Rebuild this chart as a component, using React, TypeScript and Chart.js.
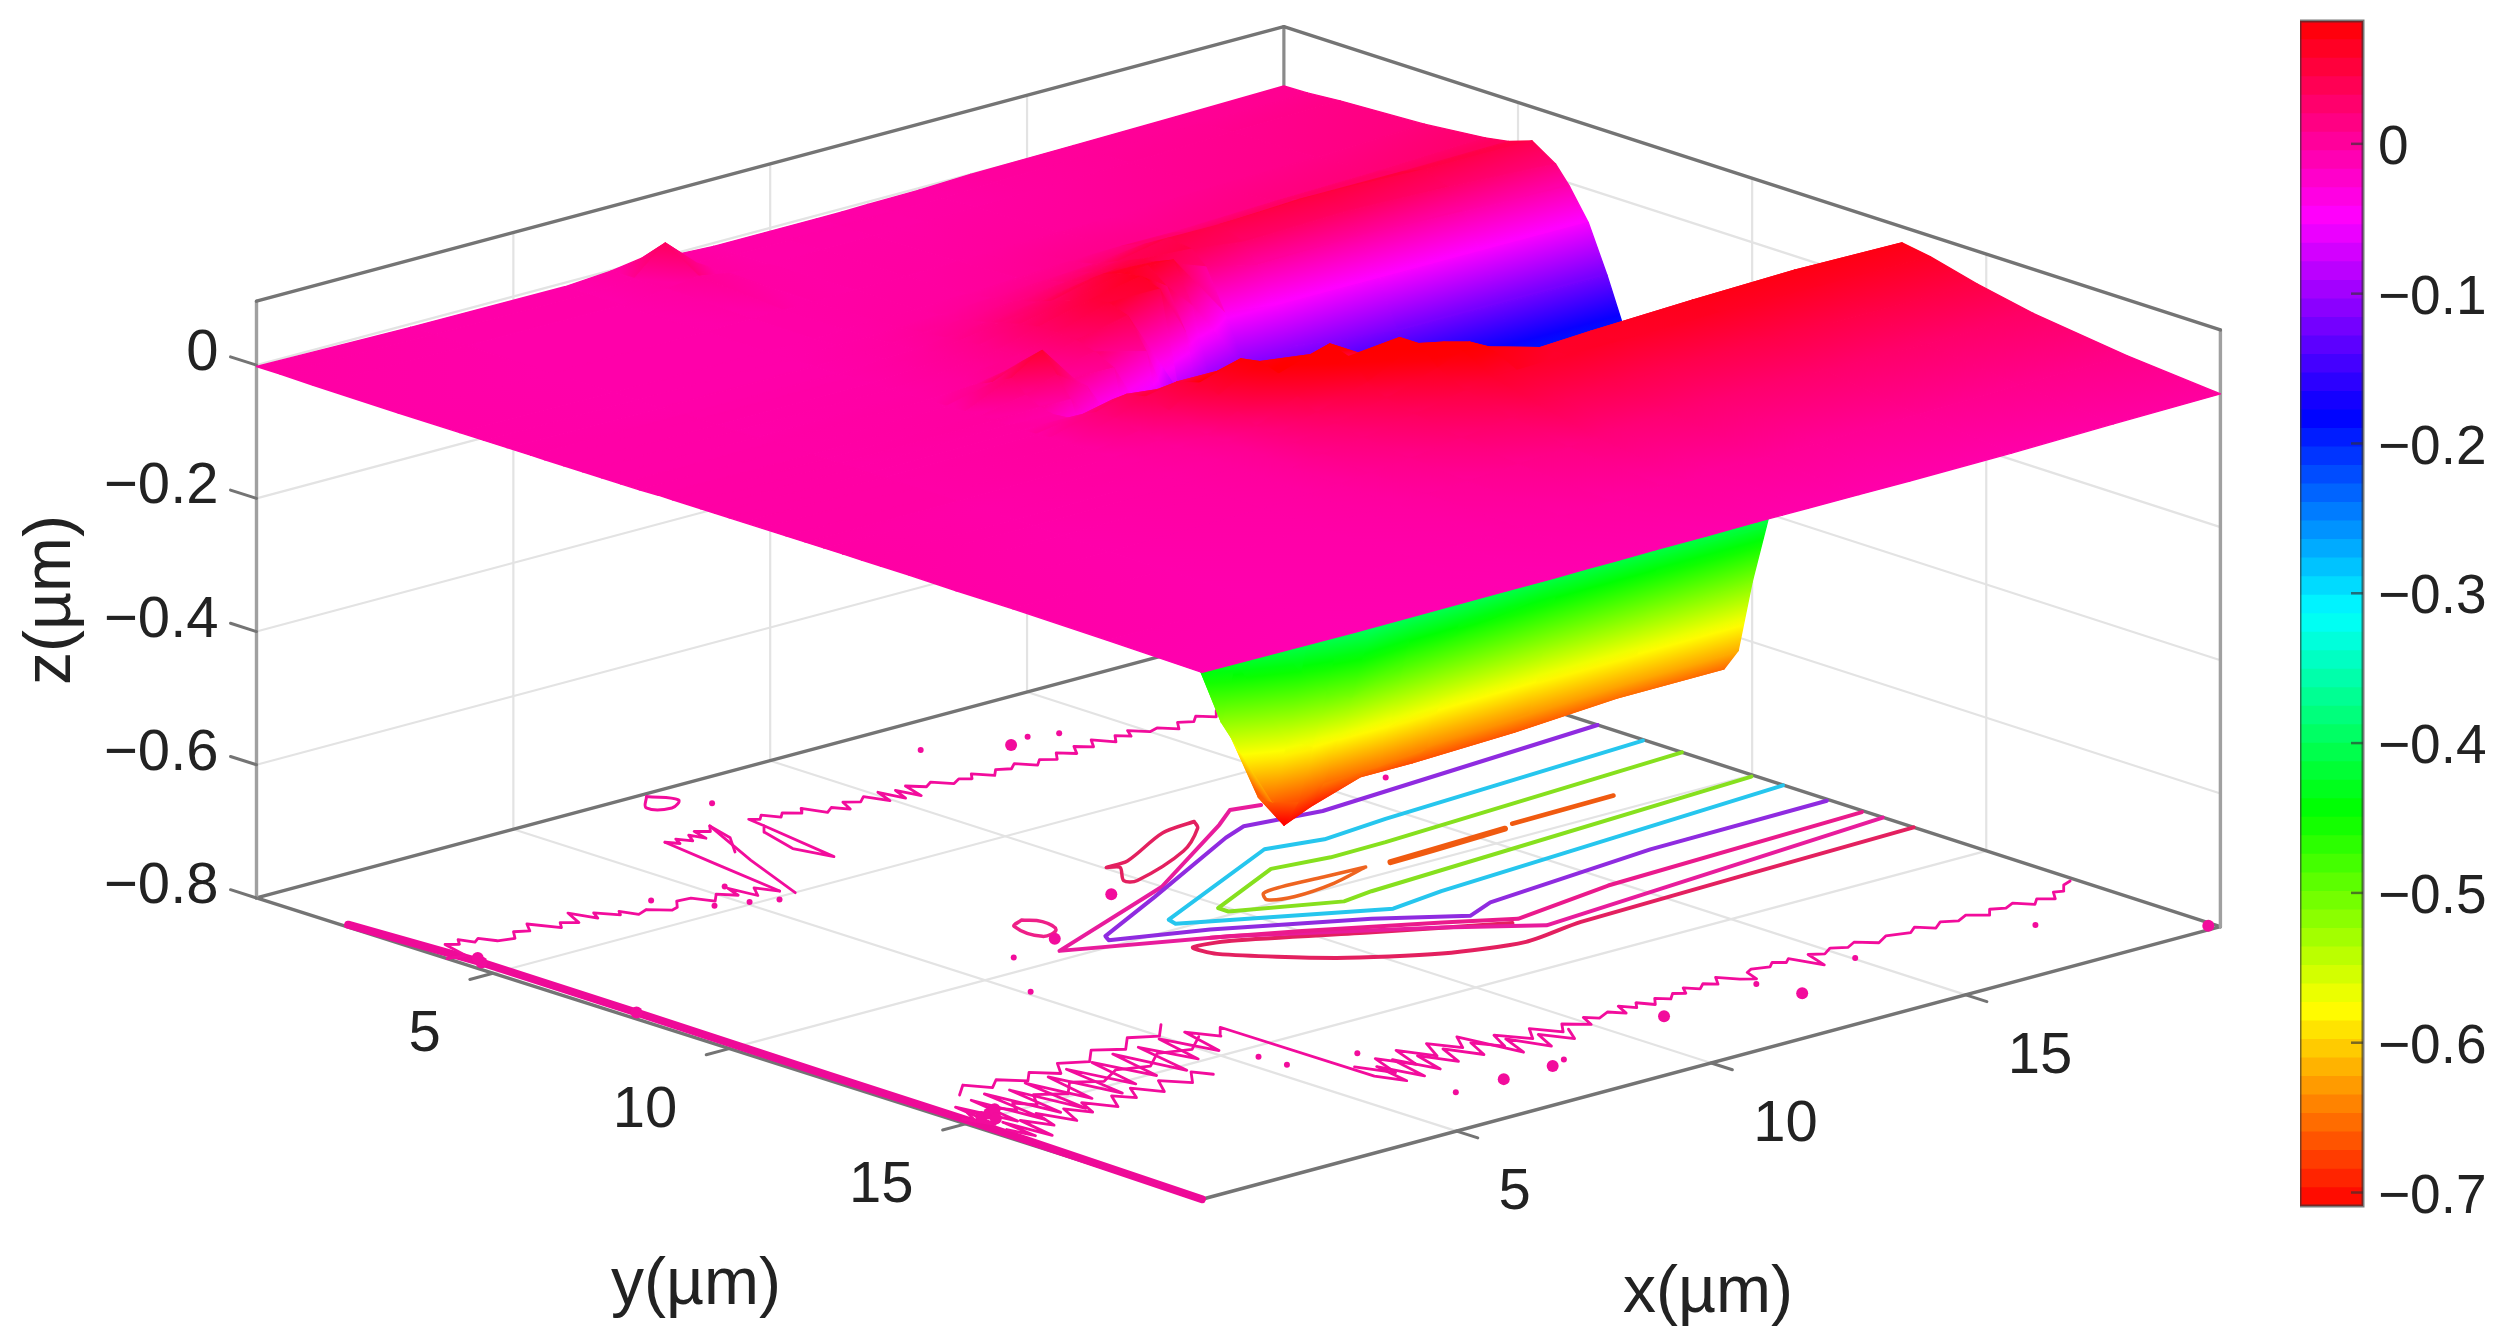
import { useEffect, useRef } from "react"
import { Chart, registerables } from "chart.js"

Chart.register(...registerables)

type Pair = number[]

// ---- axes ----
const axisMax = 20
const zFloor = -0.8
const zTop = 0.096
const xTicks = [5, 10, 15]
const yTicks = [5, 10, 15]
const zTicks = [0, -0.2, -0.4, -0.6, -0.8]
const colorBarTicks = [-0.7, -0.6, -0.5, -0.4, -0.3, -0.2, -0.1, 0]
const colorMin = -0.709
const colorMax = 0.082
const colorLevels = 64

// ---- surface heights (um), one array per x position, values along surfaceY ----
const surfaceX = [0, 3, 6, 6.9, 7.5, 8.1, 8.9, 9.9, 10.9, 11.4, 11.9, 12.9, 13.9, 15.9, 17.9, 20]
const surfaceY = [
  0, 0.5, 1.2, 3, 4.3, 4.8, 5.3, 5.8, 6.1, 6.5, 6.9,
  7.3, 7.7, 8.1, 8.5, 8.8, 9.1, 9.4, 9.7, 10, 10.3, 10.7,
  11.2, 11.6, 12, 12.4, 12.8, 13.2, 13.8, 14.8, 16, 18, 20,
]
const zAtX0 = [
  -0.002, -0.002, -0.003, -0.004, -0.004, -0.004, -0.004, -0.004, -0.004, -0.004, -0.004,
  -0.004, -0.004, -0.004, -0.003, -0.003, -0.003, -0.003, -0.003, -0.003, -0.003, -0.003,
  -0.003, -0.003, -0.003, -0.003, -0.003, -0.003, -0.003, -0.004, -0.004, -0.006, -0.009,
]
const zAtX3 = [
  -0.005, -0.005, -0.005, -0.006, -0.006, -0.006, -0.006, -0.005, -0.005, -0.005, -0.005,
  -0.005, -0.004, -0.004, -0.004, -0.004, -0.004, -0.004, -0.004, -0.004, -0.004, -0.004,
  -0.004, -0.004, -0.005, -0.005, -0.005, -0.005, -0.006, -0.006, -0.007, -0.008, -0.01,
]
const zAtX6 = [
  -0.006, -0.006, -0.006, -0.006, -0.006, -0.006, -0.005, -0.005, -0.004, -0.004, -0.003,
  -0.003, -0.002, -0.002, -0.001, -0.001, 0, -0.001, -0.001, -0.001, 0, 0,
  0, -0.001, -0.001, -0.001, -0.002, -0.002, -0.002, -0.003, -0.004, -0.006, -0.009,
]
const zAtX69 = [
  -0.001, -0.001, -0.001, -0.005, -0.005, -0.004, -0.003, -0.002, -0.001, 0, 0.001,
  0.001, 0.002, 0.015, 0.03, 0.012, 0.001, -0.004, -0.002, 0.01, 0.02, 0.02,
  0.012, 0.006, 0.003, 0.002, 0.001, 0.001, 0, -0.001, -0.002, -0.005, -0.009,
]
const zAtX75 = [
  0.006, 0.04, 0.006, -0.004, -0.004, -0.003, -0.001, 0, 0.002, 0.004, 0.005,
  0.006, 0.01, 0.035, 0.06, 0.03, 0, -0.06, -0.06, 0.02, 0.035, 0.04,
  0.03, 0.02, 0.012, 0.008, 0.006, 0.005, 0.004, 0.002, -0.001, -0.004, -0.008,
]
const zAtX81 = [
  -0.002, -0.002, -0.002, -0.004, -0.002, -0.001, 0.002, 0.005, 0.008, 0.01, 0.012,
  0.012, 0.01, 0.008, 0.006, 0, -0.05, -0.13, -0.12, -0.02, 0.03, 0.05,
  0.06, 0.05, 0.035, 0.022, 0.018, 0.015, 0.012, 0.006, 0.002, -0.003, -0.008,
]
const zAtX89 = [
  -0.005, -0.005, -0.005, -0.003, -0.001, 0, 0.005, 0.012, 0.018, 0.025, 0.03,
  0.03, 0.028, 0.02, 0.005, -0.1, -0.2, -0.29, -0.31, -0.13, -0.03, 0.05,
  0.08, 0.085, 0.075, 0.05, 0.035, 0.028, 0.02, 0.012, 0.005, -0.002, -0.007,
]
const zAtX99 = [
  -0.005, -0.005, -0.004, -0.002, 0, 0.005, 0.012, 0.022, 0.03, 0.04, 0.05,
  0.055, 0.045, 0, -0.14, -0.23, -0.36, -0.47, -0.52, -0.42, -0.34, -0.08,
  0.01, 0.075, 0.1, 0.09, 0.06, 0.045, 0.035, 0.022, 0.01, 0, -0.007,
]
const zAtX109 = [
  -0.005, -0.004, -0.004, -0.001, 0.004, 0.01, 0.02, 0.035, 0.05, 0.06, 0.065,
  0.055, -0.09, -0.2, -0.31, -0.44, -0.56, -0.66, -0.66, -0.56, -0.45, -0.3,
  -0.09, -0.02, 0.055, 0.098, 0.098, 0.07, 0.05, 0.032, 0.015, 0.002, -0.006,
]
const zAtX114 = [
  -0.005, -0.004, -0.004, 0, 0.006, 0.012, 0.025, 0.04, 0.05, 0.062, 0.04,
  -0.02, -0.16, -0.27, -0.42, -0.54, -0.63, -0.712, -0.67, -0.58, -0.49, -0.35,
  -0.2, -0.09, -0.02, 0.05, 0.09, 0.085, 0.06, 0.04, 0.02, 0.002, -0.006,
]
const zAtX119 = [
  -0.004, -0.004, -0.003, 0.001, 0.008, 0.015, 0.03, 0.045, 0.048, 0.06, 0,
  -0.12, -0.23, -0.34, -0.5, -0.6, -0.66, -0.695, -0.65, -0.58, -0.51, -0.39,
  -0.28, -0.16, -0.07, 0.03, 0.08, 0.082, 0.06, 0.04, 0.02, 0.003, -0.006,
]
const zAtX129 = [
  -0.003, -0.003, -0.002, 0.002, 0.01, 0.025, 0.045, 0.04, 0.02, -0.04, -0.11,
  -0.18, -0.28, -0.37, -0.47, -0.55, -0.62, -0.67, -0.65, -0.58, -0.48, -0.36,
  -0.24, -0.14, -0.08, -0.02, 0.03, 0.06, 0.062, 0.042, 0.024, 0.005, -0.006,
]
const zAtX139 = [
  0, 0, 0, 0.003, 0.01, 0.022, 0.045, 0.03, 0.002, -0.05, -0.1,
  -0.18, -0.27, -0.36, -0.46, -0.56, -0.63, -0.67, -0.64, -0.56, -0.46, -0.36,
  -0.24, -0.13, -0.06, -0.01, 0.03, 0.064, 0.062, 0.042, 0.024, 0.005, -0.006,
]
const zAtX159 = [
  0.002, 0.003, 0.004, 0.008, 0.016, 0.03, 0.05, 0.035, 0.005, -0.05, -0.12,
  -0.2, -0.31, -0.42, -0.53, -0.6, -0.645, -0.665, -0.63, -0.53, -0.43, -0.31,
  -0.19, -0.1, -0.04, 0.005, 0.04, 0.07, 0.065, 0.045, 0.028, 0.007, -0.005,
]
const zAtX179 = [
  0.004, 0.005, 0.008, 0.012, 0.02, 0.03, 0.045, 0.03, 0, -0.05, -0.12,
  -0.2, -0.31, -0.42, -0.53, -0.6, -0.64, -0.655, -0.625, -0.52, -0.42, -0.31,
  -0.19, -0.1, -0.04, 0, 0.035, 0.074, 0.064, 0.046, 0.027, 0.01, -0.002,
]
const zAtX20 = [
  0.007, 0.008, 0.012, 0.018, 0.027, 0.033, 0.045, 0.022, -0.005, -0.05, -0.12,
  -0.2, -0.31, -0.42, -0.53, -0.6, -0.64, -0.654, -0.62, -0.51, -0.42, -0.3,
  -0.19, -0.1, -0.04, 0, 0.03, 0.072, 0.065, 0.047, 0.03, 0.012, 0,
]
const surfaceZ = [
  zAtX0, zAtX3, zAtX6, zAtX69, zAtX75, zAtX81, zAtX89, zAtX99,
  zAtX109, zAtX114, zAtX119, zAtX129, zAtX139, zAtX159, zAtX179, zAtX20,
]

// ---- contour lines on the floor, [x, y] in um ----
const purpleLine: Pair[] = [
  [20.1, 6.7], [14.32, 7.15], [12.97, 6.94], [12.4, 7.18], [9.68, 8.63], [7.85, 9.57], [7.75, 9.75],
  [9.19, 10.34], [11.27, 11.51], [12.42, 12.36], [13.08, 12.07], [16.55, 11.7], [20.05, 11.65],
]
const cyanLine: Pair[] = [
  [20.07, 7.7], [14.73, 8.04], [13.4, 8.19], [12.43, 7.97], [9.07, 9.59], [9.01, 9.8],
  [11.83, 11.36], [12.93, 11.19], [20.09, 10.67],
]
const greenLine: Pair[] = [
  [20.1, 8.5], [13.96, 8.88], [12.87, 8.9], [11.85, 8.74], [9.98, 9.65], [9.98, 9.87],
  [11.55, 10.62], [12.18, 10.52], [20.04, 10.05],
]
const orangeLoop: Pair[] = [
  [12.92, 9.59], [12.14, 9.54], [11.36, 9.49], [10.96, 9.55], [10.78, 9.82], [11.19, 9.97], [12.04, 9.87], [12.92, 9.59],
]
const orangeDashA: Pair[] = [[13.35, 9.65], [14.2, 9.62], [15.68, 9.55]]
const orangeDashB: Pair[] = [[15.92, 9.44], [17.94, 9.4]]
const magentaLineB: Pair[] = [
  [20.09, 12.8], [12.92, 13.44], [11.73, 12.51], [9.2, 10.78], [6.87, 9.66], [10.08, 8.34],
  [12.76, 6.65], [13.36, 6.22], [13.86, 6.34],
]
const magentaLineA: Pair[] = [
  [20.05, 12.4], [14.9, 12.6], [12.83, 12.93], [11.9, 12.33], [10.12, 11.28], [8.92, 10.64],
]
const crimsonLine: Pair[] = [
  [20.12, 13.45], [13.4, 13.65], [12.15, 13.84], [10.86, 13.45], [9.59, 12.59], [8.45, 11.29],
  [8.41, 10.82], [9.04, 10.96], [10.82, 12.01], [12.63, 13.03],
]
const crimsonEllipse: Pair[] = [
  [12.6, 6.29], [11.88, 6.4], [10.58, 7.07], [10.14, 7.1], [10.29, 7.23], [9.89, 7.74], [10.04, 7.87],
  [11.51, 7.25], [12.42, 6.56], [12.6, 6.29],
]
const smallLoop: Pair[] = [[7.49, 8.18], [7.2, 8.34], [7.17, 8.97], [7.54, 8.86], [7.66, 8.44], [7.49, 8.18]]
const edgeLoop: Pair[] = [[7.6, 0.1], [7.83, 0.53], [7.49, 0.76], [7.22, 0.51], [7.6, 0.1]]

const farNoise: Pair[] = [
  [16.5, 2.5], [16.3, 2.72], [16.1, 2.5], [15.9, 2.68], [15.7, 2.55], [15.5, 2.8], [15.3, 2.55], [15.1, 2.62],
  [14.9, 2.36], [14.75, 2.6], [14.6, 2.42], [14.4, 2.66], [14.2, 2.35], [14, 2.62], [13.8, 2.42], [13.6, 2.7],
  [13.4, 2.48], [13.2, 2.72], [13, 2.56], [12.8, 2.74], [12.6, 2.46], [12.4, 2.62], [12.2, 2.5], [12, 2.7],
  [11.8, 2.42], [11.65, 2.6], [11.5, 2.48], [11.3, 2.6], [11.1, 2.32], [10.9, 2.45], [10.7, 2.22], [10.55, 2.72],
  [10.45, 2.28], [10.3, 2.66], [10.2, 2.18], [10.05, 2.6], [9.9, 2.2], [9.7, 2.36], [9.5, 2.2], [9.35, 2.52],
  [9.2, 2.28], [9, 2.42], [8.85, 2.02], [8.7, 2.2], [8.5, 2], [8.35, 2.14], [8.2, 1.88], [8.05, 2.02],
  [7.93, 1.91], [7.88, 2.29], [7.6, 4.08], [7.43, 3.39], [7.67, 2.53], [7.88, 2.29],
]
const midStrandA: Pair[] = [
  [6.28, 1.93], [6.4, 2.12], [6.5, 1.92], [6.62, 2.15], [6.77, 1.9], [6.85, 2.18], [6.95, 1.82], [7.12, 1.98], [7.3, 1.77],
  [7.12, 2.4], [6.7, 2.96],
]
const midStrandB: Pair[] = [[7.3, 1.77], [6.6, 3.4], [5.99, 5.01]]
const midStrandC: Pair[] = [[6.28, 1.93], [6.1, 3.2], [5.88, 4.8]]
const leftNoise: Pair[] = [
  [5.88, 4.8], [5.71, 4.44], [5.5, 4.75], [5.42, 4.2], [5.3, 4.55], [5.1, 4.3], [4.86, 4.54], [4.7, 4.2],
  [4.45, 4.17], [4.25, 4.4], [4.1, 4.45], [3.85, 4.18], [3.61, 4.28], [3.5, 3.98], [3.4, 4.12], [3.18, 3.79],
  [3.05, 4.02], [2.9, 3.55], [2.7, 4], [2.5, 3.82], [2.35, 4.01], [2.1, 3.55], [1.9, 3.83], [1.7, 3.7],
  [1.5, 3.95], [1.23, 3.87], [1.1, 3.6], [0.95, 3.7], [0.85, 3.45], [0.71, 3.63], [0.55, 3.5], [0.4, 4.1], [0.1, 4.03],
]
const nearNoise: Pair[] = [
  [0.23, 14.8], [0.4, 15.3], [0.55, 14.3], [0.75, 15.4], [0.95, 14.2], [1.1, 15.6], [1.3, 14.1], [1.5, 15.5],
  [1.7, 14.2], [1.9, 15.6], [2.1, 14.1], [2.3, 15.3], [2.55, 14.1], [2.8, 15.4], [3, 14], [3.25, 15.2],
  [3.5, 14], [3.75, 15.1], [4, 13.9], [4.25, 15.2], [4.5, 13.9], [4.75, 14.9], [5, 13.8], [5.25, 14.8],
  [5.5, 13.8], [5.75, 14.3], [6.04, 13.97], [6.06, 17.22], [6.25, 17.7], [6.4, 16.9], [6.6, 17.7], [6.8, 16.8],
  [7, 17.6], [7.2, 16.9], [7.45, 17.5], [7.7, 16.9], [7.95, 17.5], [8.2, 16.95], [8.45, 17.4], [8.7, 16.9],
  [9, 17.4], [9.3, 17], [9.55, 17.45], [9.8, 17.15], [10.1, 17.45], [10.25, 17.12], [10.4, 17.3], [10.69, 17.16],
  [10.85, 17.38], [11, 17.05], [11.15, 17.28], [11.3, 17.1], [11.45, 17.35], [11.65, 17.12], [11.8, 17.3], [12, 17.12],
  [12.15, 17.24], [12.3, 17.02], [12.45, 17.22], [12.65, 17.06], [12.8, 17.22], [13, 16.95], [13.2, 17.25], [13.39, 17.4],
  [13.5, 17.08], [13.65, 17], [13.93, 17.1], [14.1, 16.96], [14.25, 17.1], [14.4, 16.98], [14.58, 17.55], [14.75, 17.02],
  [14.95, 17.16], [15.2, 17], [15.41, 17.15], [15.65, 17.02], [15.9, 17.28], [16.2, 17.1], [16.58, 17.22], [16.8, 17.06],
  [17, 17.3], [17.25, 17.12], [17.48, 17.26], [17.75, 17.12], [18, 17.35], [18.2, 17.14], [18.41, 17.26], [18.65, 17.14],
  [18.85, 17.4], [19.05, 17.22], [19.25, 17.4], [19.45, 17.14], [19.6, 17.2], [19.8, 16.98], [20, 16.9],
]
const nearNoiseInner: Pair[] = [
  [0.3, 15], [0.5, 14.6], [0.7, 15], [0.9, 14.6], [1.1, 15], [1.3, 14.7], [1.5, 15], [1.8, 14.6], [2.2, 14.9],
  [2.6, 14.5], [3, 14.8], [3.5, 14.5], [4, 14.7], [4.5, 14.3], [5, 14.5], [5.5, 14.1],
]
const nearNoiseLow: Pair[] = [
  [0.35, 15.6], [0.45, 16.1], [0.55, 15.3], [0.64, 16.25], [0.8, 15.4], [1, 15.9], [1.2, 15.3], [1.4, 15.95],
  [1.65, 15.4], [1.85, 15.8], [2.05, 15.35], [2.3, 15.85], [2.59, 15.4], [2.8, 15.7], [3.05, 15.3], [3.3, 15.75],
  [3.6, 15.3], [3.9, 15.7], [4.24, 15.3], [4.4, 15.6],
]
const nearNoiseHigh: Pair[] = [
  [1, 13.9], [1.37, 13.57], [1.6, 13.95], [1.9, 13.7], [2.2, 14.05], [2.5, 13.75], [2.8, 14.1], [3.1, 13.7],
  [3.5, 13.95], [3.9, 13.55], [4.3, 13.85], [4.7, 13.45], [5.1, 13.7], [5.5, 13.3],
]
const nearLattice: Pair[] = [
  [6.15, 16.7], [6.4, 17.3], [6.65, 16.6], [6.9, 17.2], [7.15, 16.5], [7.4, 17.1], [7.7, 16.55], [7.95, 17.05],
  [8.25, 16.6], [8.45, 17.8], [8.7, 17.15], [8.95, 17.85], [9.2, 17.3], [9.45, 17.8], [9.7, 17.4],
]
const edgeThickLine: Pair[] = [[0.18, 1.85], [0.34, 4.5], [0.32, 7.8], [0.26, 12], [0.24, 15], [0.1, 20]]
const bigDots: Pair[] = [
  [9.3, 8.12], [13.18, 1.76], [11.15, 17.86], [13.4, 18.36], [7.34, 18.58], [8.3, 18.58], [0.34, 4.5], [0.45, 4.3],
  [0.32, 7.8], [0.5, 14.9], [0.7, 14.85], [0.9, 14.75], [0.6, 15.1], [7.22, 9.18], [20, 19.85],
]
const smallDots: Pair[] = [
  [6.16, 9.46], [5.2, 10.86], [13.63, 1.62], [14.08, 1.8], [12.05, 1.07], [8.07, 0.98], [15.14, 17.6], [13.21, 17.59],
  [18.17, 18.15], [16.1, 6.55], [5.47, 15.4], [5.5, 15.97], [8.64, 18.45], [6.39, 18.59], [6.64, 16.23], [5.6, 5.1],
  [5.2, 4.9], [5.45, 4.1], [4.7, 4.7], [4.2, 3.9],
]

// ---- view of the box: canvas position of the floor corners, and of 1 um in z ----
const cornerLeft = [251.7, 900] // x = 0, y = 0
const cornerFront = [1201.7, 1204] // x = 0, y = 20
const cornerRight = [2225, 929] // x = 20, y = 20
const cornerBack = [1284, 623] // x = 20, y = 0
const zPixels = -672
// the floor contours were read about 0.1 um too far along x
const floorReadShift = -0.1

function project(x: number, y: number, z: number) {
  const s = x / axisMax
  const t = y / axisMax
  const a = (1 - s) * (1 - t)
  const b = (1 - s) * t
  const c = s * t
  const d = s * (1 - t)
  return {
    x: a * cornerLeft[0] + b * cornerFront[0] + c * cornerRight[0] + d * cornerBack[0],
    y: a * cornerLeft[1] + b * cornerFront[1] + c * cornerRight[1] + d * cornerBack[1] + (z - zFloor) * zPixels,
  }
}

const onFloor = (p: Pair) => project(Math.min(axisMax, Math.max(0, p[0] + floorReadShift)), p[1], zFloor)

function hueColor(z: number) {
  const c = Math.min(colorMax, Math.max(colorMin, z))
  return `hsl(${((c - colorMin) / (colorMax - colorMin)) * 360}, 100%, 50%)`
}

const line3d = (a: number[], b: number[], color: string, width: number) => ({
  data: [project(a[0], a[1], a[2]), project(b[0], b[1], b[2])],
  borderColor: color,
  borderWidth: width,
  fill: false,
})

const contour = (pts: Pair[], color: string, width = 3.5, tension = 0) => ({
  data: pts.map(onFloor),
  borderColor: color,
  borderWidth: width,
  tension,
  fill: false,
})

const dots = (pts: Pair[], color: string, radius: number) => ({
  data: pts.map(onFloor),
  showLine: false,
  pointRadius: radius,
  pointBorderWidth: 0,
  pointBackgroundColor: color,
  fill: false,
})

// colour of one surface cell, running along the steepest direction on screen
function cellFill(ctx: CanvasRenderingContext2D, pts: { x: number; y: number }[], zs: number[]) {
  const lo = Math.min(...zs)
  const hi = Math.max(...zs)
  const mid = (zs[0] + zs[1] + zs[2] + zs[3]) / 4
  const d1x = pts[2].x - pts[0].x
  const d1y = pts[2].y - pts[0].y
  const d2x = pts[3].x - pts[1].x
  const d2y = pts[3].y - pts[1].y
  const dz1 = zs[2] - zs[0]
  const dz2 = zs[3] - zs[1]
  const det = d1x * d2y - d1y * d2x
  if (hi - lo < 0.002 || Math.abs(det) < 1e-6) return hueColor(mid)
  const gx = (dz1 * d2y - dz2 * d1y) / det
  const gy = (d1x * dz2 - d2x * dz1) / det
  const g2 = gx * gx + gy * gy
  if (g2 < 1e-14) return hueColor(mid)
  const cx = (pts[0].x + pts[1].x + pts[2].x + pts[3].x) / 4
  const cy = (pts[0].y + pts[1].y + pts[2].y + pts[3].y) / 4
  const grad = ctx.createLinearGradient(
    cx + (gx * (lo - mid)) / g2,
    cy + (gy * (lo - mid)) / g2,
    cx + (gx * (hi - mid)) / g2,
    cy + (gy * (hi - mid)) / g2
  )
  const steps = Math.min(24, Math.max(1, Math.ceil((hi - lo) / 0.0124)))
  for (let i = 0; i <= steps; i++) {
    grad.addColorStop(i / steps, hueColor(lo + ((hi - lo) * i) / steps))
  }
  return grad
}

function buildDatasets(ctx: CanvasRenderingContext2D) {
  const gridColor = "#e3e3e3"
  const edgeColor = "#747474"
  const postColor = "#a0a0a0"
  const list: any[] = []

  // back walls and floor grid
  xTicks.forEach((x) => {
    list.push(line3d([x, 0, zFloor], [x, axisMax, zFloor], gridColor, 2.2))
    list.push(line3d([x, 0, zFloor], [x, 0, zTop], gridColor, 2.2))
  })
  yTicks.forEach((y) => {
    list.push(line3d([0, y, zFloor], [axisMax, y, zFloor], gridColor, 2.2))
    list.push(line3d([axisMax, y, zFloor], [axisMax, y, zTop], gridColor, 2.2))
  })
  zTicks.slice(0, -1).forEach((z) => {
    list.push(line3d([0, 0, z], [axisMax, 0, z], gridColor, 2.2))
    list.push(line3d([axisMax, 0, z], [axisMax, axisMax, z], gridColor, 2.2))
  })

  // box edges and tick marks
  const corners = [
    [0, 0],
    [0, axisMax],
    [axisMax, axisMax],
    [axisMax, 0],
    [0, 0],
  ]
  corners.slice(0, 4).forEach((c, i) => {
    list.push(line3d([c[0], c[1], zFloor], [corners[i + 1][0], corners[i + 1][1], zFloor], edgeColor, 3.4))
  })
  list.push(line3d([0, 0, zFloor], [0, 0, zTop], postColor, 3.4))
  list.push(line3d([axisMax, 0, zFloor], [axisMax, 0, zTop], "#8a8a8a", 3.2))
  list.push(line3d([axisMax, axisMax, zFloor], [axisMax, axisMax, zTop], postColor, 3.4))
  list.push(line3d([0, 0, zTop], [axisMax, 0, zTop], edgeColor, 3.4))
  list.push(line3d([axisMax, 0, zTop], [axisMax, axisMax, zTop], edgeColor, 3.4))
  zTicks.forEach((z) => list.push(line3d([0, 0, z], [0, -0.55, z], edgeColor, 3)))
  yTicks.forEach((y) => list.push(line3d([0, y, zFloor], [-0.45, y, zFloor], edgeColor, 3)))
  xTicks.forEach((x) => list.push(line3d([x, axisMax, zFloor], [x, axisMax + 0.45, zFloor], edgeColor, 3)))

  // contours on the floor
  const noisePink = "#f20c9c"
  list.push(contour(edgeThickLine, "#ee0a98", 8))
  ;[
    farNoise, midStrandA, midStrandB, midStrandC, leftNoise, nearNoise, nearNoiseInner,
    nearNoiseLow, nearNoiseHigh, nearLattice,
  ].forEach((n) => list.push(contour(n, noisePink, 2.8)))
  list.push(contour(edgeLoop, noisePink, 3, 0.4))
  list.push(contour(crimsonLine, "#e3205f", 4, 0.25))
  list.push(contour(crimsonEllipse, "#e3205f", 3.5, 0.3))
  list.push(contour(smallLoop, "#ee2088", 3.5, 0.4))
  list.push(contour(magentaLineB, "#e81c9c", 4))
  list.push(contour(magentaLineA, "#ea1a8c", 4))
  list.push(contour(purpleLine, "#8f2be0", 4))
  list.push(contour(cyanLine, "#26c6ee", 4))
  list.push(contour(greenLine, "#86e01e", 4))
  list.push(contour(orangeLoop, "#ee6420", 3.5, 0.3))
  list.push(contour(orangeDashA, "#f05a10", 6))
  list.push(contour(orangeDashB, "#f05a10", 4.5))
  list.push(dots(bigDots, noisePink, 6))
  list.push(dots(smallDots, noisePink, 3))

  // surface cells, far ones first so the near ones cover them
  for (let i = surfaceX.length - 2; i >= 0; i--) {
    for (let j = 0; j < surfaceY.length - 1; j++) {
      const zs = [surfaceZ[i][j], surfaceZ[i + 1][j], surfaceZ[i + 1][j + 1], surfaceZ[i][j + 1]]
      const pts = [
        project(surfaceX[i], surfaceY[j], zs[0]),
        project(surfaceX[i + 1], surfaceY[j], zs[1]),
        project(surfaceX[i + 1], surfaceY[j + 1], zs[2]),
        project(surfaceX[i], surfaceY[j + 1], zs[3]),
      ]
      const paint = cellFill(ctx, pts, zs)
      list.push({
        data: [...pts, pts[0]],
        borderColor: paint,
        backgroundColor: paint,
        borderWidth: 1.4,
        fill: "shape",
      })
    }
  }

  // Chart.js paints the last dataset first
  return list.reverse()
}

const minusLabel = (v: number) => (v === 0 ? "0" : `\u2212${Math.abs(v).toFixed(1)}`)

// tick numbers and axis titles of the 3D box
const boxText = {
  id: "boxText",
  afterDatasetsDraw(chart: any) {
    const { ctx, scales } = chart
    const px = (p: { x: number; y: number }) => ({
      x: scales.x.getPixelForValue(p.x),
      y: scales.y.getPixelForValue(p.y),
    })
    ctx.save()
    ctx.fillStyle = "#222222"
    ctx.textBaseline = "middle"
    ctx.font = '58px "Liberation Sans"'
    ctx.textAlign = "right"
    zTicks.forEach((z) => {
      const p = px(project(0, 0, z))
      ctx.fillText(minusLabel(z), p.x - 38, p.y - 11)
    })
    yTicks.forEach((y) => {
      const p = px(project(0, y, zFloor))
      ctx.fillText(String(y), p.x - 52, p.y + 62)
    })
    ctx.textAlign = "left"
    xTicks.forEach((x) => {
      const p = px(project(x, axisMax, zFloor))
      ctx.fillText(String(x), p.x + 42, p.y + 62)
    })
    ctx.textAlign = "center"
    ctx.font = '66px "Liberation Sans"'
    ctx.fillText("y(\u00b5m)", 696, 1286)
    ctx.fillText("x(\u00b5m)", 1708, 1294)
    ctx.translate(52, 600)
    ctx.rotate(-Math.PI / 2)
    ctx.fillText("z(\u00b5m)", 0, 0)
    ctx.restore()
  },
}

// inner tick marks and outline of the colour bar
const barFrame = {
  id: "barFrame",
  afterDatasetsDraw(chart: any) {
    const { ctx, chartArea, scales } = chart
    ctx.save()
    ctx.strokeStyle = "rgba(50, 50, 50, 0.65)"
    ctx.lineWidth = 3
    ctx.strokeRect(chartArea.left, chartArea.top, chartArea.right - chartArea.left, chartArea.bottom - chartArea.top)
    ctx.lineWidth = 2.5
    colorBarTicks.forEach((v) => {
      const y = scales.y.getPixelForValue(v)
      ctx.beginPath()
      ctx.moveTo(chartArea.right - 12, y)
      ctx.lineTo(chartArea.right, y)
      ctx.stroke()
    })
    ctx.restore()
  },
}

export default function App() {
  const surfaceRef = useRef<HTMLCanvasElement | null>(null)
  const barRef = useRef<HTMLCanvasElement | null>(null)

  useEffect(() => {
    if (!surfaceRef.current || !barRef.current) return
    const ctx = surfaceRef.current.getContext("2d")
    if (!ctx) return

    const surfaceChart = new Chart(surfaceRef.current, {
      type: "line",
      data: { datasets: buildDatasets(ctx) },
      options: {
        animation: false,
        responsive: false,
        devicePixelRatio: 1,
        events: [],
        layout: { padding: 0 },
        elements: { point: { radius: 0 }, line: { tension: 0, borderJoinStyle: "round", borderCapStyle: "round" } },
        plugins: { legend: { display: false }, tooltip: { enabled: false } },
        scales: {
          x: { type: "linear", display: false, min: 0, max: 2520 },
          y: { type: "linear", display: false, min: 0, max: 1342, reverse: true },
        },
      },
      plugins: [boxText],
    } as any)

    const step = (colorMax - colorMin) / colorLevels
    const barDatasets = Array.from({ length: colorLevels }, (_, i) => ({
      data: [[colorMin + i * step - 0.0004, colorMin + (i + 1) * step]],
      backgroundColor: hueColor(colorMin + (i + 0.5) * step),
      borderWidth: 0,
      barPercentage: 1,
      categoryPercentage: 1,
      grouped: false,
    }))

    const barChart = new Chart(barRef.current, {
      type: "bar",
      data: { labels: ["z"], datasets: barDatasets },
      options: {
        animation: false,
        responsive: false,
        devicePixelRatio: 1,
        events: [],
        layout: { padding: { top: 21, bottom: 136, left: 0, right: 0 } },
        plugins: { legend: { display: false }, tooltip: { enabled: false } },
        scales: {
          x: { display: false },
          y: {
            type: "linear",
            position: "right",
            min: colorMin,
            max: colorMax,
            grid: { display: false, drawTicks: false },
            border: { display: false },
            afterBuildTicks: (scale: any) => {
              scale.ticks = colorBarTicks.map((value) => ({ value }))
            },
            afterFit: (scale: any) => {
              scale.width = 157
              scale.paddingTop = 0
              scale.paddingBottom = 0
            },
            ticks: {
              padding: 15,
              labelOffset: 5,
              color: "#222222",
              autoSkip: false,
              font: { family: '"Liberation Sans"', size: 55 },
              callback: (v: any) => minusLabel(Number(v)),
            },
          },
        },
      },
      plugins: [barFrame],
    } as any)

    return () => {
      surfaceChart.destroy()
      barChart.destroy()
    }
  }, [])

  return (
    <div style={{ position: "absolute", left: 0, top: 0, width: 2520, height: 1342, overflow: "hidden", background: "#fff" }}>
      <canvas ref={surfaceRef} width={2520} height={1342} style={{ position: "absolute", left: 0, top: 0 }} />
      <canvas ref={barRef} width={220} height={1342} style={{ position: "absolute", left: 2300, top: 0 }} />
    </div>
  )
}
